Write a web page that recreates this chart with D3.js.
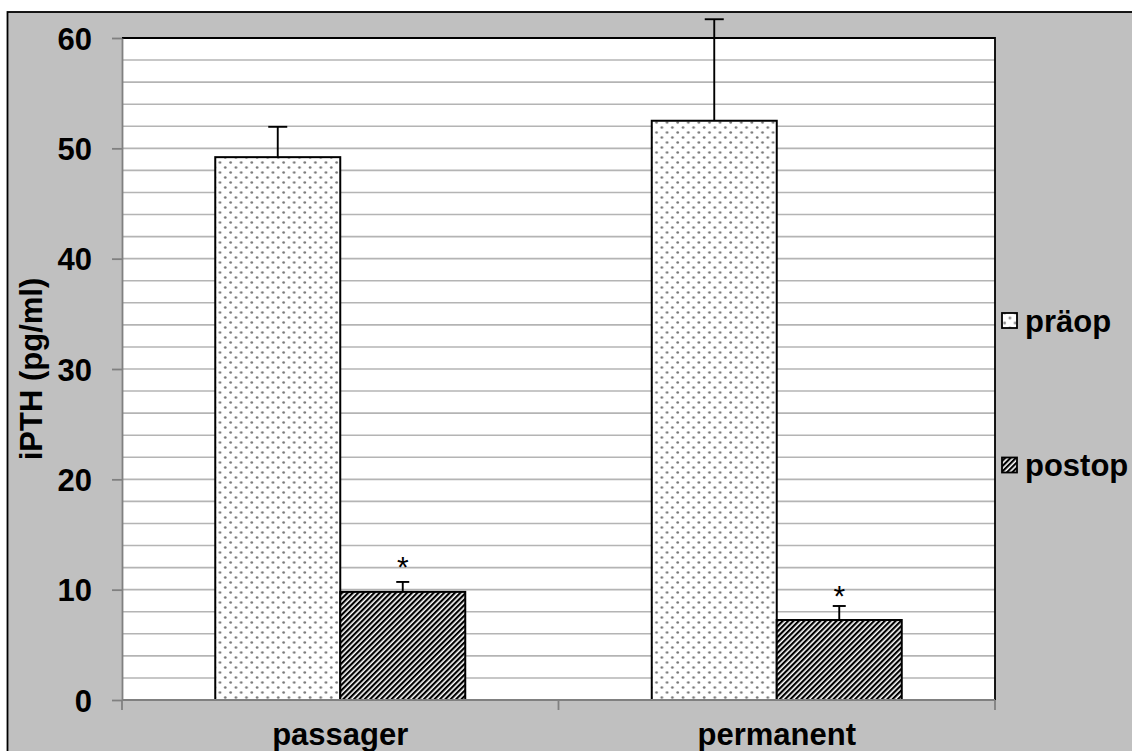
<!DOCTYPE html>
<html>
<head>
<meta charset="utf-8">
<script src="https://cdn.jsdelivr.net/npm/d3@7"></script>
<style>
  html, body { margin: 0; padding: 0; background: #ffffff; }
  svg { display: block; }
  text { font-family: "Liberation Sans", Arial, sans-serif; }
</style>
</head>
<body>
<svg id="chart" width="1132" height="751"></svg>
<script>
// ---- data ----
const categories = ["passager", "permanent"];
const seriesNames = ["präop", "postop"];
const preopValues = [49.2, 52.5];
const postopValues = [9.8, 7.25];
const preopErrors = [2.75, 9.2];
const postopErrors = [0.9, 1.27];
const yTicks = [0, 10, 20, 30, 40, 50, 60];
const gridValues = d3.range(2, 60, 2);
const starCategories = ["passager", "permanent"];
const starValues = [12.7, 10.1];   // vertical centre of "*" in data units

// ---- layout ----
const W = 1132, H = 751;
const plot = { left: 122, right: 995, top: 38, bottom: 700 };
const font = 31;

const svg = d3.select("#chart");

// patterns
const defs = svg.append("defs");
const dots = defs.append("pattern").attr("id", "dots")
  .attr("patternUnits", "userSpaceOnUse")
  .attr("width", 10.6).attr("height", 10);
dots.append("rect").attr("width", 10.6).attr("height", 10).attr("fill", "#ffffff");
dots.append("circle").attr("cx", 2.6).attr("cy", 2.5).attr("r", 1.35).attr("fill", "#7a7a7a");
dots.append("circle").attr("cx", 7.9).attr("cy", 7.5).attr("r", 1.35).attr("fill", "#7a7a7a");

const hatch = defs.append("pattern").attr("id", "hatch")
  .attr("patternUnits", "userSpaceOnUse")
  .attr("width", 3.8).attr("height", 3.8)
  .attr("patternTransform", "rotate(45)");
hatch.append("rect").attr("width", 3.8).attr("height", 3.8).attr("fill", "#ffffff");
hatch.append("rect").attr("width", 2.2).attr("height", 3.8).attr("fill", "#000000");

const fills = { "präop": "url(#dots)", "postop": "url(#hatch)" };

// outer frame
svg.append("rect")
  .attr("x", 7.5).attr("y", 12).attr("width", W + 20).attr("height", H + 20)
  .attr("fill", "#c0c0c0").attr("stroke", "#000").attr("stroke-width", 1.8);

// plot background
svg.append("rect")
  .attr("x", plot.left).attr("y", plot.top)
  .attr("width", plot.right - plot.left).attr("height", plot.bottom - plot.top)
  .attr("fill", "#ffffff");

// scales
const y = d3.scaleLinear().domain([0, 60]).range([plot.bottom, plot.top]);
const x0 = d3.scaleBand().domain(categories).range([plot.left, plot.right]).padding(0);
const x1 = d3.scaleBand().domain(seriesNames).range([0, x0.bandwidth()])
  .paddingInner(0).paddingOuter(0.746);

// grid lines
svg.append("g").selectAll("line").data(gridValues).join("line")
  .attr("x1", plot.left).attr("x2", plot.right)
  .attr("y1", d => y(d)).attr("y2", d => y(d))
  .attr("stroke", "#b4b4b4").attr("stroke-width", 1.6);

// plot border top/right (black)
svg.append("path")
  .attr("d", `M${plot.left},${y(60)}H${plot.right}V${plot.bottom}`)
  .attr("fill", "none").attr("stroke", "#000").attr("stroke-width", 1.8);

// bars data
const rows = categories.map((c, i) => ({
  cat: c,
  bars: [
    { s: "präop", v: preopValues[i], e: preopErrors[i], cap: 19 },
    { s: "postop", v: postopValues[i], e: postopErrors[i], cap: 13 }
  ]
}));

const groups = svg.append("g").selectAll("g").data(rows).join("g")
  .attr("transform", d => `translate(${x0(d.cat)},0)`);

// error bars (upper only)
groups.selectAll("g.err").data(d => d.bars).join("g").attr("class", "err")
  .each(function (d) {
    const g = d3.select(this);
    const cx = x1(d.s) + x1.bandwidth() / 2;
    g.append("line").attr("x1", cx).attr("x2", cx)
      .attr("y1", y(d.v)).attr("y2", y(d.v + d.e))
      .attr("stroke", "#000").attr("stroke-width", 1.9);
    g.append("line").attr("x1", cx - d.cap / 2).attr("x2", cx + d.cap / 2)
      .attr("y1", y(d.v + d.e)).attr("y2", y(d.v + d.e))
      .attr("stroke", "#000").attr("stroke-width", 1.9);
  });

groups.selectAll("rect.bar").data(d => d.bars).join("rect").attr("class", "bar")
  .attr("x", d => x1(d.s))
  .attr("y", d => y(d.v))
  .attr("width", x1.bandwidth())
  .attr("height", d => y(0) - y(d.v))
  .attr("fill", d => fills[d.s])
  .attr("stroke", "#000").attr("stroke-width", 2);

// y axis
const yAxis = d3.axisLeft(y).tickValues(yTicks).tickSize(10).tickPadding(20).tickSizeOuter(0);
const gy = svg.append("g").attr("transform", `translate(${plot.left},0)`).call(yAxis);
gy.select(".domain").attr("stroke", "#808080").attr("stroke-width", 1.8);
gy.selectAll(".tick line").attr("stroke", "#808080").attr("stroke-width", 1.8);
gy.selectAll(".tick text")
  .attr("font-size", font).attr("font-weight", "bold").attr("fill", "#000")
  .attr("font-family", "'Liberation Sans', Arial, sans-serif")
  .attr("dy", "0.36em");

// x axis (ticks at band boundaries)
const boundaries = [plot.left].concat(categories.map(c => x0(c) + x0.bandwidth()));
const gx = svg.append("g");
gx.append("line").attr("x1", plot.left).attr("x2", plot.right)
  .attr("y1", plot.bottom).attr("y2", plot.bottom)
  .attr("stroke", "#808080").attr("stroke-width", 1.8);
gx.selectAll("line.tk").data(boundaries).join("line").attr("class", "tk")
  .attr("x1", d => d).attr("x2", d => d)
  .attr("y1", plot.bottom).attr("y2", plot.bottom + 10)
  .attr("stroke", "#808080").attr("stroke-width", 1.8);
gx.selectAll("text").data(categories).join("text")
  .attr("x", d => x0(d) + x0.bandwidth() / 2)
  .attr("y", 745)
  .attr("text-anchor", "middle")
  .attr("font-size", font).attr("font-weight", "bold")
  .text(d => d);

// y axis title
svg.append("text")
  .attr("transform", `translate(42,${(plot.top + plot.bottom) / 2}) rotate(-90)`)
  .attr("text-anchor", "middle")
  .attr("font-size", font).attr("font-weight", "bold")
  .text("iPTH (pg/ml)");

// significance stars above postop bars
svg.append("g").selectAll("text").data(starCategories).join("text")
  .attr("x", (d) => x0(d) + x1("postop") + x1.bandwidth() / 2)
  .attr("y", (d, i) => y(starValues[i]) + 0.58 * 30)
  .attr("text-anchor", "middle")
  .attr("font-size", 30)
  .text("*");

// legend
const legendY = [320.5, 465];
const lg = svg.append("g").selectAll("g").data(seriesNames).join("g")
  .attr("transform", (d, i) => `translate(1002,${legendY[i]})`);
lg.append("rect").attr("x", 0).attr("y", -7.5).attr("width", 15).attr("height", 15)
  .attr("fill", d => fills[d]).attr("stroke", "#000").attr("stroke-width", 1.8);
lg.append("text").attr("x", 23).attr("y", 11)
  .attr("font-size", font).attr("font-weight", "bold")
  .text(d => d);
</script>
</body>
</html>
